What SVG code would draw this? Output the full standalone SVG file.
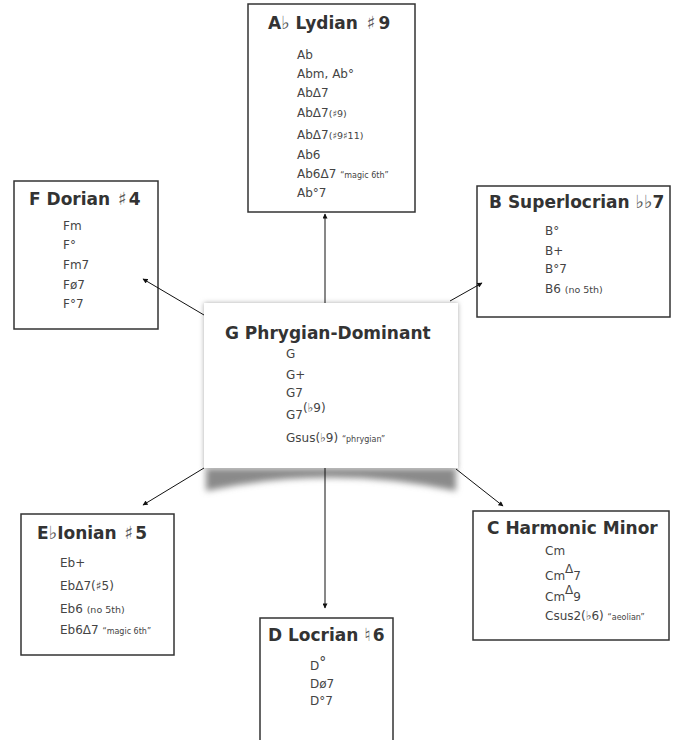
<svg xmlns="http://www.w3.org/2000/svg" width="678" height="740" viewBox="0 0 678 740">
<defs>
<style>
.box{fill:#fff;stroke:#333;stroke-width:1.5}
.t{font-family:"DejaVu Sans","Liberation Sans",sans-serif;font-weight:bold;font-size:17px;fill:#333}
.sym{font-weight:normal;fill:#555;font-size:18px}
.c{font-family:"DejaVu Sans","Liberation Sans",sans-serif;font-size:12px;fill:#444}
.s{font-size:9.5px}
.m{font-size:8px}
.ln{stroke:#111;stroke-width:1;fill:none;marker-end:url(#ah)}
</style>
<marker id="ah" viewBox="0 0 10 10" refX="9" refY="5" markerWidth="6" markerHeight="5" markerUnits="userSpaceOnUse" orient="auto">
<path d="M0,0 L10,5 L0,10 z" fill="#111"/>
</marker>
<filter id="blur" x="-20%" y="-50%" width="140%" height="200%"><feGaussianBlur stdDeviation="3"/></filter>
<filter id="glow" x="-10%" y="-10%" width="120%" height="120%"><feGaussianBlur stdDeviation="2.5"/></filter>
</defs>
<rect width="678" height="740" fill="#fff"/>

<g id="lydian">
<rect class="box" x="248" y="4" width="167" height="208"/>
<text class="t" x="268" y="29">A<tspan class="sym">♭</tspan> Lydian <tspan class="sym" dx="3">♯</tspan><tspan dx="3">9</tspan></text>
<text class="c" x="297" y="59">Ab</text>
<text class="c" x="297" y="78">Abm, Ab°</text>
<text class="c" x="297" y="97">AbΔ7</text>
<text class="c" x="297" y="117">AbΔ7<tspan class="s">(♯9)</tspan></text>
<text class="c" x="297" y="139">AbΔ7<tspan class="s">(♯9♯11)</tspan></text>
<text class="c" x="297" y="159">Ab6</text>
<text class="c" x="297" y="178">Ab6Δ7 <tspan class="m">“magic 6th”</tspan></text>
<text class="c" x="297" y="197">Ab°7</text>
</g>

<g id="dorian">
<rect class="box" x="14" y="181" width="144" height="148"/>
<text class="t" x="29" y="205">F Dorian <tspan class="sym" dx="2">♯</tspan><tspan dx="2">4</tspan></text>
<text class="c" x="63" y="230">Fm</text>
<text class="c" x="63" y="249">F°</text>
<text class="c" x="63" y="269">Fm7</text>
<text class="c" x="63" y="289">Fø7</text>
<text class="c" x="63" y="308">F°7</text>
</g>

<g id="superlocrian">
<rect class="box" x="477" y="186" width="193" height="131"/>
<text class="t" x="489" y="208">B Superlocrian <tspan class="sym">♭♭</tspan>7</text>
<text class="c" x="545" y="235">B°</text>
<text class="c" x="545" y="255">B+</text>
<text class="c" x="545" y="273">B°7</text>
<text class="c" x="545" y="293">B6 <tspan class="s">(no 5th)</tspan></text>
</g>

<g id="phrygian-dominant">
<path d="M206,468 L456,468 L456,491 Q331,464 206,491 Z" fill="#8a8a8a" filter="url(#blur)"/>
<rect x="204" y="303" width="254" height="165" fill="#aaa" filter="url(#glow)"/>
<rect x="204" y="303" width="254" height="165" fill="#fff"/>
<text class="t" x="225" y="339">G Phrygian-Dominant</text>
<text class="c" x="286" y="358">G</text>
<text class="c" x="286" y="379">G+</text>
<text class="c" x="286" y="397">G7</text>
<text class="c" x="286" y="419">G7<tspan dy="-7">(♭9)</tspan></text>
<text class="c" x="286" y="442">Gsus(♭9) <tspan class="m">“phrygian”</tspan></text>
</g>

<g id="ionian">
<rect class="box" x="21" y="514" width="153" height="141"/>
<text class="t" x="37" y="539">E<tspan class="sym">♭</tspan>Ionian <tspan class="sym" dx="2">♯</tspan><tspan dx="2">5</tspan></text>
<text class="c" x="60" y="567">Eb+</text>
<text class="c" x="60" y="590">EbΔ7(♯5)</text>
<text class="c" x="60" y="613">Eb6 <tspan class="s">(no 5th)</tspan></text>
<text class="c" x="60" y="634">Eb6Δ7 <tspan class="m">“magic 6th”</tspan></text>
</g>

<g id="harmonic-minor">
<rect class="box" x="473" y="511" width="196" height="129"/>
<text class="t" x="487" y="534">C Harmonic Minor</text>
<text class="c" x="545" y="555">Cm</text>
<text class="c" x="545" y="580">Cm<tspan dy="-7">Δ</tspan><tspan dy="7">7</tspan></text>
<text class="c" x="545" y="601">Cm<tspan dy="-7">Δ</tspan><tspan dy="7">9</tspan></text>
<text class="c" x="545" y="620">Csus2(♭6) <tspan class="m">“aeolian”</tspan></text>
</g>

<g id="locrian">
<rect class="box" x="260" y="618" width="133" height="130"/>
<text class="t" x="268" y="641">D Locrian <tspan class="sym">♮</tspan><tspan dx="2">6</tspan></text>
<text class="c" x="310" y="670">D<tspan dy="-3" style="font-size:14px">°</tspan></text>
<text class="c" x="310" y="688">Dø7</text>
<text class="c" x="310" y="705">D°7</text>
</g>

<g id="connectors">
<line class="ln" x1="325" y1="303" x2="325" y2="214"/>
<line class="ln" x1="204" y1="315" x2="143" y2="279"/>
<line class="ln" x1="450" y1="301" x2="482" y2="283"/>
<line class="ln" x1="204" y1="468" x2="143" y2="505"/>
<line class="ln" x1="456" y1="469" x2="503" y2="506"/>
<line class="ln" x1="325" y1="468" x2="325" y2="608"/>
</g>
</svg>
